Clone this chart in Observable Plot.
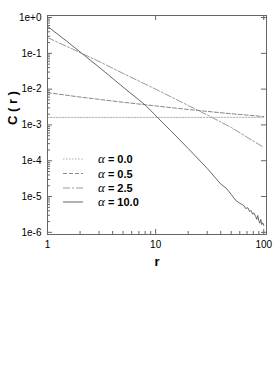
<!DOCTYPE html>
<html>
<head>
<meta charset="utf-8">
<script src="https://cdn.jsdelivr.net/npm/d3@7"></script>
<script src="https://cdn.jsdelivr.net/npm/@observablehq/plot@0.6"></script>
<style>
  html, body { margin: 0; padding: 0; background: #fff; }
  #wrap { position: relative; width: 273px; height: 392px; }
  #legend { position: absolute; left: 0; top: 0; }
</style>
</head>
<body>
<div id="wrap"></div>
<script>
// ---- data ----
const seriesNames = ["α = 0.0", "α = 0.5", "α = 2.5", "α = 10.0"];

const r_a0 = [1, 2, 5, 10, 20, 50, 100];
const c_a0 = [1.62e-3, 1.62e-3, 1.62e-3, 1.62e-3, 1.62e-3, 1.63e-3, 1.62e-3];

const r_a05 = [1, 2, 5, 10, 20, 50, 100];
const c_a05 = [8.0e-3, 6.0e-3, 4.3e-3, 3.4e-3, 2.7e-3, 2.05e-3, 1.72e-3];

const r_a25 = [1, 2, 3, 5, 10, 20, 30, 50, 100];
const c_a25 = [0.275, 0.105, 0.059, 0.0275, 0.010, 3.5e-3, 1.9e-3, 8.5e-4, 2.35e-4];

const r_a10 = [1, 1.5, 2.2, 3, 5, 8.1, 10.4, 13.8, 20, 30, 40, 45, 50, 55, 60,
  65.3, 68.1, 71.1, 74.1, 75.8, 79.1, 80.8, 84.3, 86.1, 87.9, 89.9, 91.8, 93.8, 95.8, 97.9, 100];
const c_a10 = [0.57, 0.22, 0.087, 0.041, 0.0114, 3.5e-3, 1.62e-3, 6.9e-4, 2.2e-4, 6.1e-5,
  2.24e-5, 1.7e-5, 1.15e-5, 7.8e-6, 6.5e-6, 5.6e-6, 4.6e-6, 4.9e-6, 3.8e-6, 4.1e-6,
  3.2e-6, 3.5e-6, 2.75e-6, 2.3e-6, 2.95e-6, 2.15e-6, 1.8e-6, 2.3e-6, 1.65e-6, 1.85e-6, 1.55e-6];

const xMajorTicks = [1, 10, 100];
const xTickLabels = ["1", "10", "100"];
const xMinorTicks = [2, 3, 4, 5, 6, 7, 8, 9, 20, 30, 40, 50, 60, 70, 80, 90];
const yMajorTicks = [1, 1e-1, 1e-2, 1e-3, 1e-4, 1e-5, 1e-6];
const yTickLabels = ["1e+0", "1e-1", "1e-2", "1e-3", "1e-4", "1e-5", "1e-6"];
const yMinorTicks = [];
for (const e of [0, -1, -2, -3, -4, -5, -6]) for (const m of [2,3,4,5,6,7,8,9]) { const v = m * Math.pow(10, e); if (v < 1.14) yMinorTicks.push(v); }

const xLabel = "r";
const yLabel = "C ( r )";

// ---- styles ----
const styles = [
  {stroke: "#b0b0b0", dash: "1.5,1.5"},
  {stroke: "#888", dash: "4,2"},
  {stroke: "#999", dash: "7,2,2,2"},
  {stroke: "#666", dash: null}
];

const mk = (rs, cs) => rs.map((r, i) => ({r, c: cs[i]}));
const series = [mk(r_a0, c_a0), mk(r_a05, c_a05), mk(r_a25, c_a25), mk(r_a10, c_a10)];

const frameH = 219, frameW = 219;
const frameColor = "#666";

const chart = Plot.plot({
  width: 273,
  height: 392,
  marginTop: 15,
  marginBottom: 158,
  marginLeft: 47,
  marginRight: 7,
  style: {fontFamily: "'Liberation Sans', Arial, sans-serif", fontSize: "10px", background: "#fff"},
  x: {type: "log", domain: [1, 106], axis: null},
  y: {type: "log", domain: [8.7e-7, 1.14], axis: null},
  marks: [
    ...series.map((s, i) => Plot.line(s, {x: "r", y: "c", stroke: styles[i].stroke, strokeWidth: 1, strokeDasharray: styles[i].dash})),
    // bottom ticks (major + minor), inward
    Plot.ruleX(xMajorTicks, {x: d => d, stroke: frameColor, insetTop: frameH - 5}),
    Plot.ruleX(xMinorTicks, {x: d => d, stroke: frameColor, insetTop: frameH - 3}),
    // top ticks (major)
    Plot.ruleX(xMajorTicks, {x: d => d, stroke: frameColor, insetBottom: frameH - 5}),
    // left ticks
    Plot.ruleY(yMajorTicks, {y: d => d, stroke: frameColor, insetRight: frameW - 5}),
    Plot.ruleY(yMinorTicks, {y: d => d, stroke: frameColor, insetRight: frameW - 3}),
    // right ticks
    Plot.ruleY(yMajorTicks, {y: d => d, stroke: frameColor, insetLeft: frameW - 5}),
    Plot.frame({stroke: frameColor}),
    // tick labels
    Plot.text(xMajorTicks, {x: d => d, text: (d, i) => xTickLabels[i], frameAnchor: "bottom", dy: 13, fill: "#000", fontSize: 10}),
    Plot.text(yMajorTicks, {y: d => d, text: (d, i) => yTickLabels[i], frameAnchor: "left", dx: -6, textAnchor: "end", fill: "#000", fontSize: 10}),
    // axis labels
    Plot.text([xLabel], {text: d => d, frameAnchor: "bottom", dy: 31, fontWeight: "bold", fontSize: 13, fill: "#000"}),
    Plot.text([yLabel], {text: d => d, frameAnchor: "left", dx: -35, rotate: -90, fontWeight: "bold", fontSize: 13, fill: "#000"})
  ]
});

const wrap = document.getElementById("wrap");
wrap.appendChild(chart);

// ---- legend overlay (inside the plot area) ----
const ns = "http://www.w3.org/2000/svg";
const leg = document.createElementNS(ns, "svg");
leg.setAttribute("id", "legend");
leg.setAttribute("width", 273);
leg.setAttribute("height", 392);
const rowY = [159, 173.5, 188, 202];
seriesNames.forEach((name, i) => {
  const ln = document.createElementNS(ns, "line");
  ln.setAttribute("x1", 63); ln.setAttribute("x2", 83);
  ln.setAttribute("y1", rowY[i]); ln.setAttribute("y2", rowY[i]);
  ln.setAttribute("stroke", styles[i].stroke);
  ln.setAttribute("stroke-width", 1);
  if (styles[i].dash) ln.setAttribute("stroke-dasharray", styles[i].dash);
  leg.appendChild(ln);
  const t = document.createElementNS(ns, "text");
  t.setAttribute("x", 98);
  t.setAttribute("y", rowY[i] + 4);
  t.setAttribute("font-family", "'Liberation Sans', Arial, sans-serif");
  t.setAttribute("font-size", 11);
  t.setAttribute("font-weight", "bold");
  const a = document.createElementNS(ns, "tspan");
  a.setAttribute("font-family", "'Liberation Serif', 'Times New Roman', serif");
  a.setAttribute("font-style", "italic");
  a.setAttribute("font-weight", "normal");
  a.setAttribute("font-size", 13);
  a.textContent = name.slice(0, 1);
  const rest = document.createElementNS(ns, "tspan");
  rest.textContent = name.slice(1);
  t.appendChild(a); t.appendChild(rest);
  leg.appendChild(t);
});
wrap.appendChild(leg);
</script>
</body>
</html>
